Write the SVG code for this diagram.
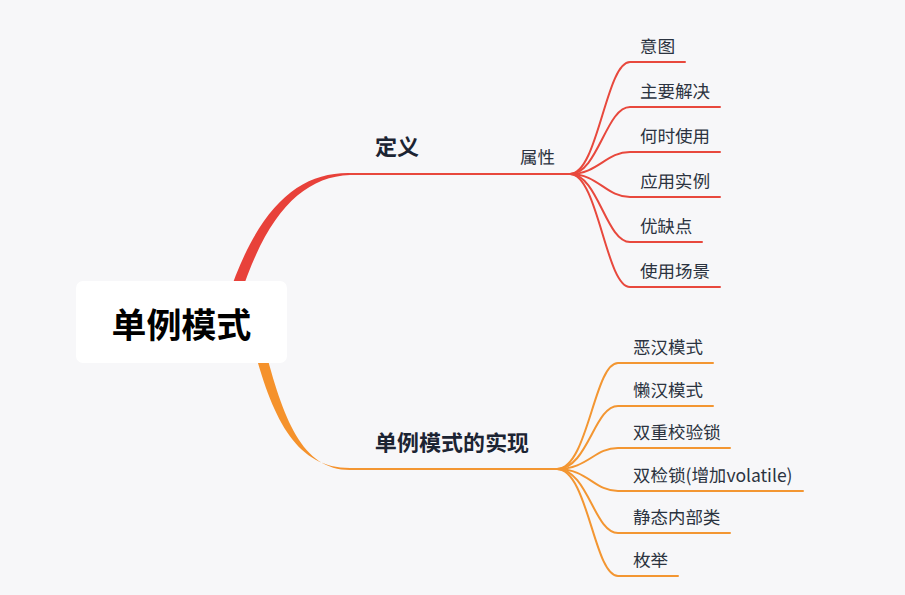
<svg xmlns="http://www.w3.org/2000/svg" width="905" height="595" viewBox="0 0 905 595">
<style>
text{font-family:"Noto Sans SC","Noto Sans CJK SC",sans-serif;dominant-baseline:central;fill:#2b3340}
.lf{font-size:17.5px}
.bt{font-size:22px;font-weight:bold;fill:#1c2433}
.r{stroke:#e8483d;stroke-width:2;fill:none;stroke-linecap:round}
.o{stroke:#f39632;stroke-width:2;fill:none;stroke-linecap:round}
</style>
<rect width="905" height="595" fill="#f7f7f9"/>
<g id="connectors">
<path d="M227,300 C257,208 298,172 350,173 L350,175 C302,177 266,214 239,300 Z" fill="#e8413a"/>
<path d="M350,174 L572,174" class="r"/>
<path d="M570,174 C598,174 606,62 630,62 L685,62" class="r"/>
<path d="M570,174 C598,174 606,107 630,107 L720,107" class="r"/>
<path d="M570,174 C598,174 606,152 630,152 L720,152" class="r"/>
<path d="M570,174 C598,174 606,197 630,197 L720,197" class="r"/>
<path d="M570,174 C598,174 606,242 630,242 L702,242" class="r"/>
<path d="M570,174 C598,174 606,287 630,287 L720,287" class="r"/>
<path d="M253,345 C273,421 297,468 350,468 L350,470 C302,470 283,419 264,345 Z" fill="#f5922c"/>
<path d="M350,469 L560,469" class="o"/>
<path d="M557,469 C588,469 594,363 618,363 L713,363" class="o"/>
<path d="M557,469 C588,469 594,406 618,406 L713,406" class="o"/>
<path d="M557,469 C588,469 594,448 618,448 L730,448" class="o"/>
<path d="M557,469 C588,469 594,491 618,491 L803,491" class="o"/>
<path d="M557,469 C588,469 594,533 618,533 L730,533" class="o"/>
<path d="M557,469 C588,469 594,576 618,576 L678,576" class="o"/>
</g>
<g id="root">
<rect x="76" y="281" width="211" height="82" rx="7" fill="#ffffff"/>
<text x="181.5" y="322" text-anchor="middle" style="font-size:35px;font-weight:bold;fill:#000">单例模式</text>
</g>
<g id="n-def"><text x="375" y="145" class="bt">定义</text></g>
<g id="n-attr"><text x="520" y="156.5" class="lf">属性</text></g>
<g id="n-a1"><text x="640" y="45" class="lf">意图</text></g>
<g id="n-a2"><text x="640" y="90" class="lf">主要解决</text></g>
<g id="n-a3"><text x="640" y="135" class="lf">何时使用</text></g>
<g id="n-a4"><text x="640" y="180" class="lf">应用实例</text></g>
<g id="n-a5"><text x="640" y="225" class="lf">优缺点</text></g>
<g id="n-a6"><text x="640" y="270" class="lf">使用场景</text></g>
<g id="n-impl"><text x="375" y="441" class="bt">单例模式的实现</text></g>
<g id="n-b1"><text x="633" y="346" class="lf">恶汉模式</text></g>
<g id="n-b2"><text x="633" y="389" class="lf">懒汉模式</text></g>
<g id="n-b3"><text x="633" y="431" class="lf">双重校验锁</text></g>
<g id="n-b4"><text x="633" y="474" class="lf">双检锁(增加volatile)</text></g>
<g id="n-b5"><text x="633" y="516" class="lf">静态内部类</text></g>
<g id="n-b6"><text x="633" y="559" class="lf">枚举</text></g>
</svg>
